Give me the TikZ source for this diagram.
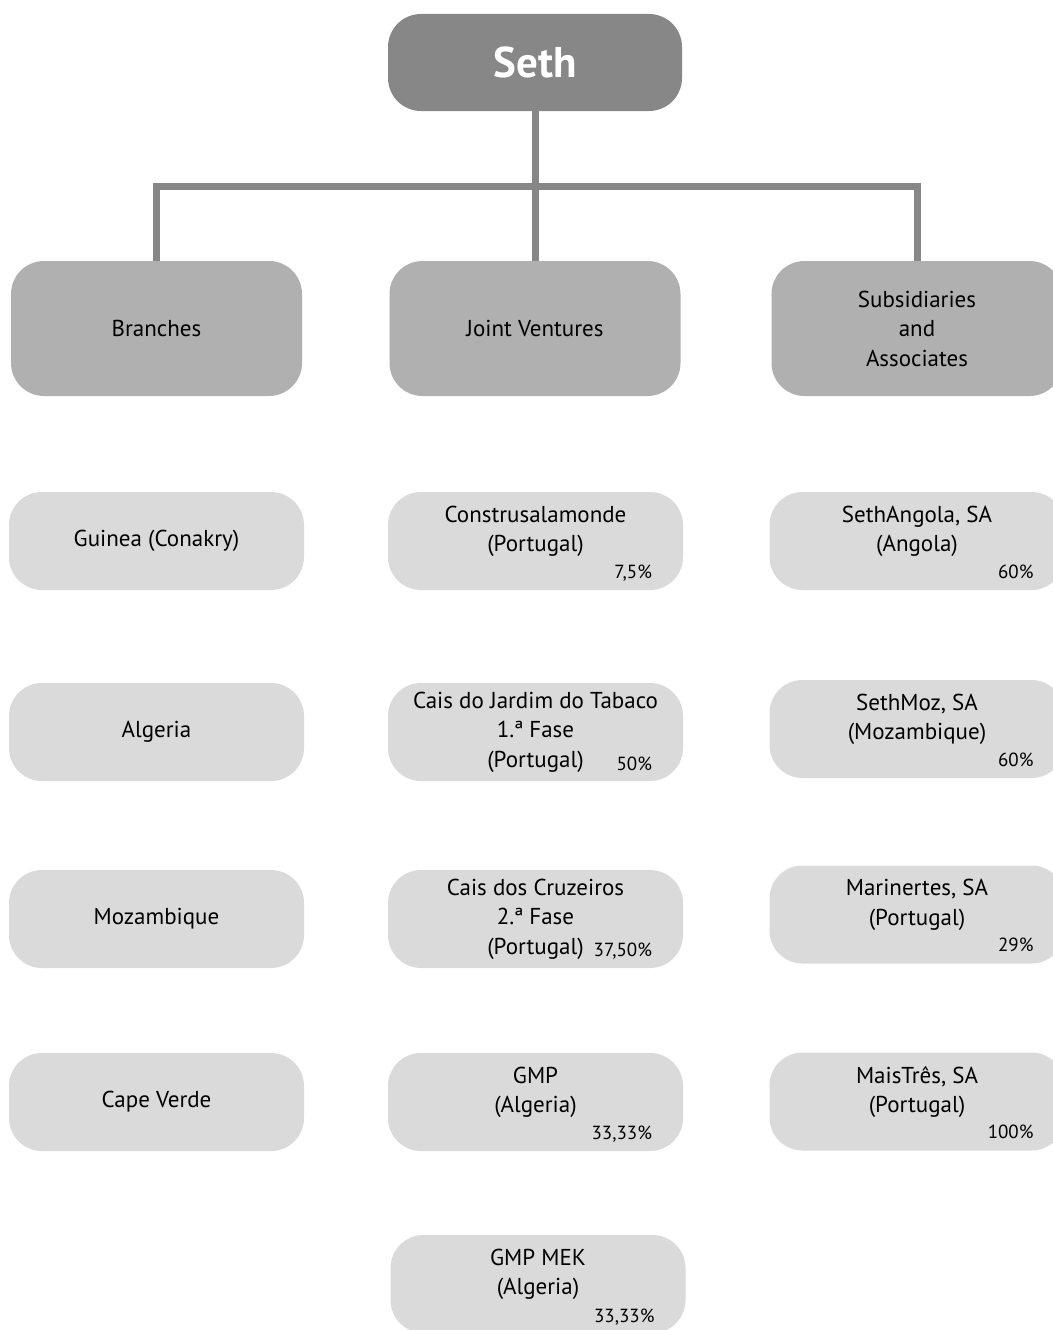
\documentclass[tikz,border=0pt]{standalone}
\usepackage{fontspec}
\setmainfont{PT Sans}
\usepackage{tikz}
\usetikzlibrary{positioning,calc}

\definecolor{darkgrey}{HTML}{878787}
\definecolor{midgrey}{HTML}{B0B0B0}
\definecolor{lightgrey}{HTML}{DADADA}

\begin{document}
\begin{tikzpicture}
   [x=1pt,y=-1pt,
    headbox/.style={rectangle,rounded corners=33pt,fill=darkgrey,text=white,
      minimum width=294pt,minimum height=97pt,
      font=\fontsize{43}{50}\selectfont\bfseries},
    groupbox/.style={rectangle,rounded corners=33pt,fill=midgrey,align=center,
      minimum width=291pt,minimum height=135pt,
      font=\fontsize{23}{29.5}\selectfont},
    unitbox/.style={rectangle,rounded corners=33pt,fill=lightgrey,align=center,
      minimum width=295pt,minimum height=98pt,inner sep=0pt,
      font=\fontsize{23}{29.5}\selectfont},
    sharebox/.style={unitbox,text depth=24pt},
    pct/.style={anchor=base east,inner sep=0pt,
      font=\fontsize{19}{22}\selectfont},
    conn/.style={line width=7pt,draw=darkgrey}]
\useasboundingbox (0,0) rectangle (1052,1330);
\node [headbox] (seth) at (535,62.5) {Seth};
\node [groupbox] (branches) at (156.5,328.5) {Branches};
\node [groupbox] (jv) at (535,328.5) {Joint Ventures};
\node [groupbox] (subs) at (917,328.5) {Subsidiaries\\and\\Associates};
\coordinate (bus) at (535,186);
\draw [conn] (seth.south) -- (bus);
\draw [conn] (bus) -- (jv.north);
\draw [conn] (bus) -| (branches.north);
\draw [conn] (bus) -| (subs.north);
% branches
\node [unitbox] (guinea) at (156.5,541) {Guinea (Conakry)};
\node [unitbox] (algeria) at (156.5,732) {Algeria};
\node [unitbox] (mozambique) at (156.5,919) {Mozambique};
\node [unitbox] (capeverde) at (156.5,1102) {Cape Verde};
% joint ventures
\node [sharebox] (constr) at (535.5,541) {Construsalamonde\\(Portugal)};
\node [unitbox] (jardim) at (535.5,732) {Cais do Jardim do Tabaco\\1.ª Fase\\(Portugal)};
\node [unitbox] (cruzeiros) at (535.5,919) {Cais dos Cruzeiros\\2.ª Fase\\(Portugal)};
\node [sharebox] (gmp) at (535.5,1102) {GMP\\(Algeria)};
\node [sharebox] (gmpmek) at (538,1284) {GMP MEK\\(Algeria)};
\node [pct] (constrpct) at ($(constr.south east) + (-31pt,12pt)$) {7,5\%};
\node [pct] (jardimpct) at ($(jardim.south east) + (-31pt,11pt)$) {50\%};
\node [pct] (cruzeirospct) at ($(cruzeiros.south east) + (-31pt,12pt)$) {37,50\%};
\node [pct] (gmppct) at ($(gmp.south east) + (-31pt,12pt)$) {33,33\%};
\node [pct] (gmpmekpct) at ($(gmpmek.south east) + (-31pt,11pt)$) {33,33\%};
% subsidiaries and associates
\node [sharebox] (angola) at (917,541) {SethAngola, SA\\(Angola)};
\node [sharebox] (sethmoz) at (917,729) {SethMoz, SA\\(Mozambique)};
\node [sharebox] (marinertes) at (917,914.5) {Marinertes, SA\\(Portugal)};
\node [sharebox] (maistres) at (917,1101.5) {MaisTrês, SA\\(Portugal)};
\node [pct] (angolapct) at ($(angola.south east) + (-31pt,12pt)$) {60\%};
\node [pct] (sethmozpct) at ($(sethmoz.south east) + (-31pt,12pt)$) {60\%};
\node [pct] (marinertespct) at ($(marinertes.south east) + (-31pt,12pt)$) {29\%};
\node [pct] (maistrespct) at ($(maistres.south east) + (-31pt,12pt)$) {100\%};
\end{tikzpicture}
\end{document}
